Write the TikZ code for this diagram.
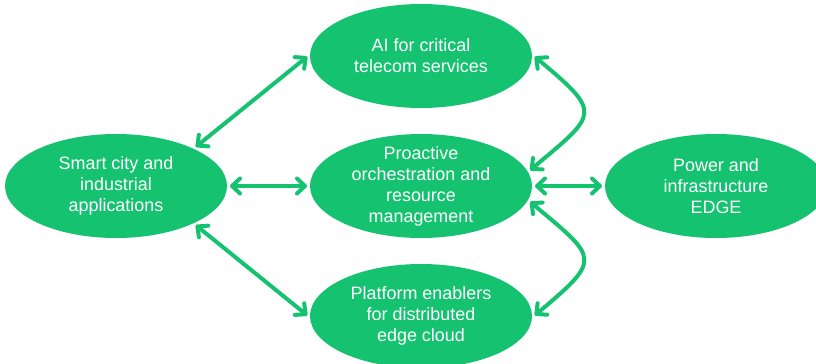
\documentclass[tikz,border=0pt]{standalone}
\usepackage{fontspec}
\setmainfont{Liberation Sans}
\usepackage{tikz}
\usetikzlibrary{arrows.meta,shapes.geometric,positioning}
\definecolor{nodegreen}{RGB}{20,194,112}

\begin{document}
\begin{tikzpicture}[<->,>={Straight Barb[length=8bp,width=15bp,round]},shorten >=1pt,shorten <=1pt,line width=4bp,draw=nodegreen,x=1bp,y=1bp]
 \tikzstyle{topic}=[ellipse, fill=nodegreen, draw=none, text=white, align=center, minimum width=222bp, minimum height=104bp, inner xsep=0pt, inner ysep=-12bp, font=\fontsize{18}{21}\selectfont]
 \useasboundingbox (-421,-177) rectangle (395,186);
 \node[topic] (mid) at (0,0) {Proactive\\orchestration and\\resource\\management};
 \node[topic] (top) [above=22bp of mid] {AI for critical\\telecom services};
 \node[topic] (bottom) [below=22bp of mid] {Platform enablers\\for distributed\\edge cloud};
 \node[topic] (left) [left=79bp of mid] {Smart city and\\industrial\\applications};
 \node[topic] (right) [right=69bp of mid] {Power and\\infrastructure\\EDGE};
 \path
   (left.26) edge (top.west)
   (left) edge (mid)
   (left.-26) edge (bottom.west)
   (mid) edge (right)
   (top.east) edge[out=-40, in=40, looseness=2] (mid.8)
   (mid.-8) edge[out=-40, in=40, looseness=2] (bottom.east);
\end{tikzpicture}
\end{document}
